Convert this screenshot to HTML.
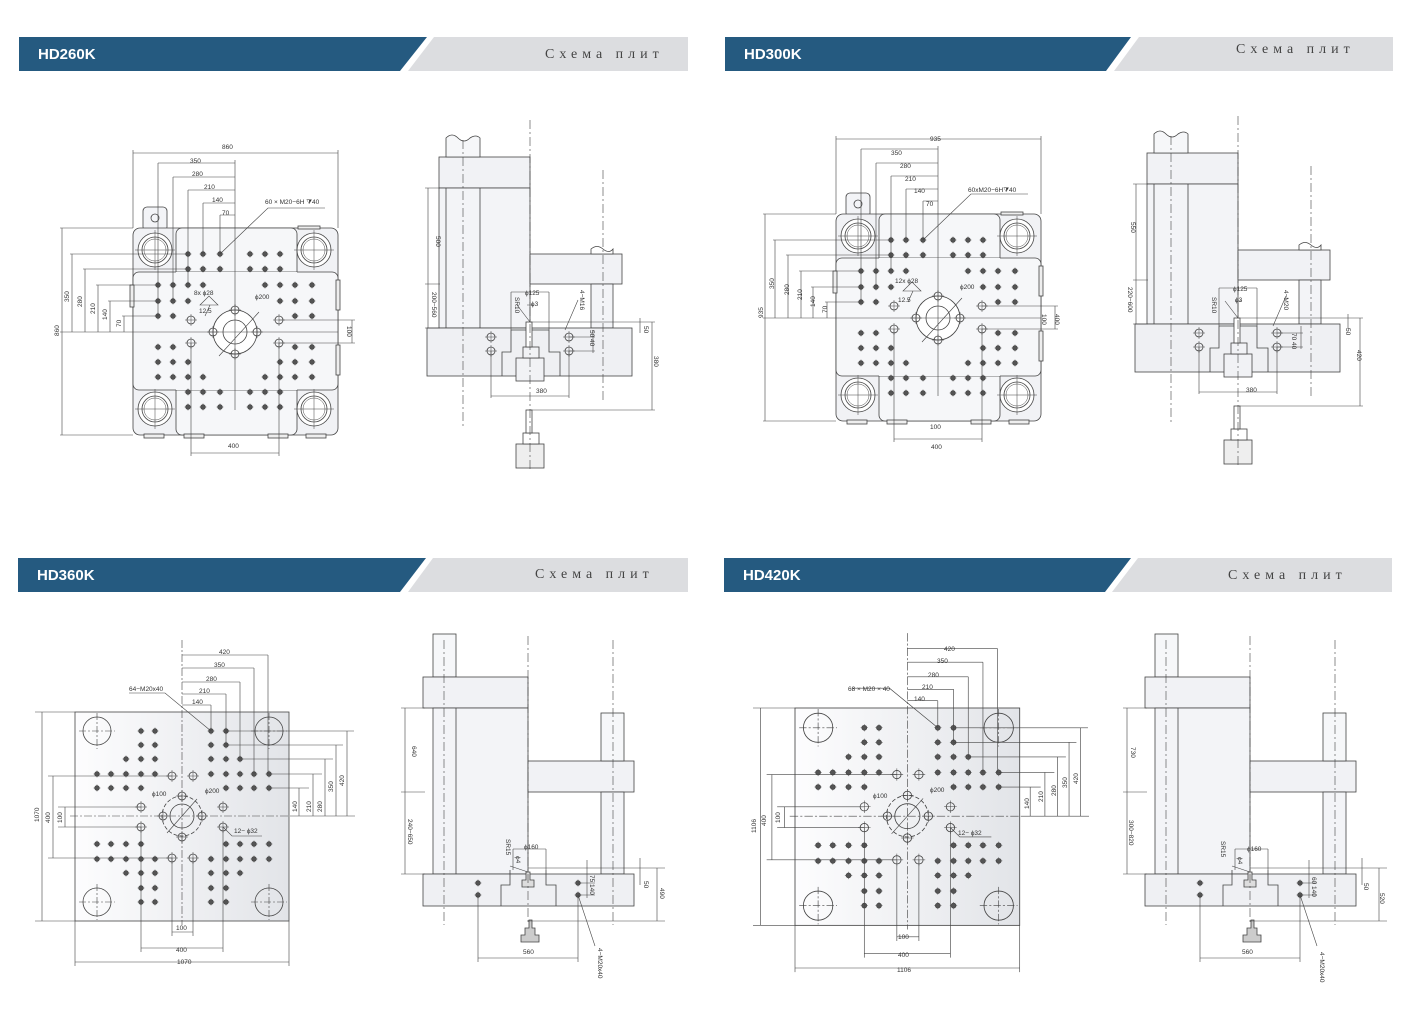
<!DOCTYPE html>
<html><head><meta charset="utf-8"><style>
html,body{margin:0;padding:0;background:#fff}
svg{display:block}
text{font-family:"Liberation Sans",sans-serif;fill:#333}
.t{font-size:6.5px}
.h{font-size:15px;font-weight:bold;fill:#fff}
.s{font-family:"Liberation Serif",serif;font-size:14px;letter-spacing:5px;fill:#444}
</style></head><body>
<svg width="1427" height="1021" viewBox="0 0 1427 1021" xmlns="http://www.w3.org/2000/svg">
<defs>
<linearGradient id="gr" x1="0" x2="1"><stop offset="0" stop-color="#fdfdfe"/><stop offset="1" stop-color="#e2e4e8"/></linearGradient>
<g id="d"><circle r="2.3" fill="#555"/><path d="M-3.5 0H3.5M0 -3.5V3.5" stroke="#555" stroke-width="0.5"/></g>
<g id="o"><circle r="4" fill="none" stroke="#444" stroke-width="0.8"/><path d="M-6 0H6M0 -6V6" stroke="#444" stroke-width="0.5"/></g>
<g id="tb"><circle r="17" fill="#fff" stroke="#444" stroke-width="0.8"/><circle r="13" fill="none" stroke="#444" stroke-width="0.8"/><circle r="11" fill="none" stroke="#444" stroke-width="0.5"/><path d="M-20 0H20M0 -20V20" stroke="#444" stroke-width="0.5"/></g>
<g id="tc"><circle r="14" fill="none" stroke="#444" stroke-width="0.8"/><path d="M-18 0H18M0 -18V18" stroke="#444" stroke-width="0.6" stroke-dasharray="7 2 2 2"/></g>

<!-- Plate A (HD260K) -->
<g id="plA" stroke="#444" stroke-width="0.8">
<rect x="143" y="207" width="24" height="24" rx="4" fill="#f3f4f7"/>
<rect x="133" y="228" width="205" height="207" rx="7" fill="#f1f2f5"/>
<rect x="176" y="228" width="121" height="207" rx="6" fill="#f6f7f9"/>
<rect x="133" y="272" width="205" height="118" rx="6" fill="#f6f7f9"/>
<rect x="176" y="272" width="121" height="118" fill="#f6f7f9" stroke="none"/>
<rect x="298" y="226" width="22" height="3" fill="#eee"/>
<rect x="336" y="280" width="4" height="30" fill="#eee"/>
<rect x="336" y="345" width="4" height="30" fill="#eee"/>
<rect x="130" y="285" width="4" height="22" fill="#eee"/>
<rect x="144" y="434" width="20" height="4" fill="#eee"/><rect x="184" y="434" width="20" height="4" fill="#eee"/><rect x="268" y="434" width="20" height="4" fill="#eee"/><rect x="306" y="434" width="20" height="4" fill="#eee"/>
<circle cx="155" cy="218" r="4" fill="none"/>
<use href="#tb" x="155" y="250"/><use href="#tb" x="314" y="250"/><use href="#tb" x="155" y="409"/><use href="#tb" x="314" y="409"/>
<circle cx="235" cy="332" r="22" fill="#fff"/><circle cx="235" cy="332" r="12" fill="none"/>
<path d="M213 332H338M235 160V410M219 356L259 312M124 332H213" stroke-width="0.6"/>
<g stroke="#444"><use href="#o" x="235" y="310"/><use href="#o" x="235" y="354"/><use href="#o" x="213" y="332"/><use href="#o" x="257" y="332"/><use href="#o" x="191" y="320"/><use href="#o" x="191" y="343"/><use href="#o" x="279" y="320"/><use href="#o" x="279" y="343"/></g>
<g>
<use href="#d" x="188" y="254"/><use href="#d" x="203" y="254"/><use href="#d" x="220" y="254"/>
<use href="#d" x="188" y="269"/><use href="#d" x="203" y="269"/><use href="#d" x="220" y="269"/>
<use href="#d" x="158" y="285"/><use href="#d" x="173" y="285"/><use href="#d" x="188" y="285"/><use href="#d" x="203" y="285"/>
<use href="#d" x="158" y="301"/><use href="#d" x="173" y="301"/><use href="#d" x="188" y="301"/>
<use href="#d" x="158" y="316"/><use href="#d" x="173" y="316"/>
<use href="#d" x="250" y="254"/><use href="#d" x="265" y="254"/><use href="#d" x="280" y="254"/>
<use href="#d" x="250" y="269"/><use href="#d" x="265" y="269"/><use href="#d" x="280" y="269"/>
<use href="#d" x="265" y="285"/><use href="#d" x="280" y="285"/><use href="#d" x="295" y="285"/><use href="#d" x="312" y="285"/>
<use href="#d" x="280" y="301"/><use href="#d" x="295" y="301"/><use href="#d" x="312" y="301"/>
<use href="#d" x="295" y="316"/><use href="#d" x="312" y="316"/>
<use href="#d" x="158" y="347"/><use href="#d" x="173" y="347"/><use href="#d" x="295" y="347"/><use href="#d" x="312" y="347"/>
<use href="#d" x="158" y="362"/><use href="#d" x="173" y="362"/><use href="#d" x="188" y="362"/><use href="#d" x="280" y="362"/><use href="#d" x="295" y="362"/><use href="#d" x="312" y="362"/>
<use href="#d" x="158" y="377"/><use href="#d" x="173" y="377"/><use href="#d" x="188" y="377"/><use href="#d" x="203" y="377"/><use href="#d" x="265" y="377"/><use href="#d" x="280" y="377"/><use href="#d" x="295" y="377"/><use href="#d" x="312" y="377"/>
<use href="#d" x="188" y="392"/><use href="#d" x="203" y="392"/><use href="#d" x="220" y="392"/><use href="#d" x="250" y="392"/><use href="#d" x="265" y="392"/><use href="#d" x="280" y="392"/>
<use href="#d" x="188" y="407"/><use href="#d" x="203" y="407"/><use href="#d" x="220" y="407"/><use href="#d" x="250" y="407"/><use href="#d" x="265" y="407"/><use href="#d" x="280" y="407"/>
</g>
<g stroke-width="0.6" fill="none">
<path d="M133 228V150M338 228V150M133 153H338"/>
<path d="M158 163H235M158 163V316M173 177H235M173 177V301M188 190H235M188 190V285M203 203H235M203 203V254M220 215H235M220 215V254"/>
<path d="M60 228H133M60 435H133M62 228V435"/>
<path d="M70 254H188M72 254V332M83 269H188M85 269V332M96 285H158M98 285V332M108 301H158M110 301V332M122 316H158M124 316V332M60 332H124"/>
<path d="M279 320H355M279 343H355M352 320V343"/>
<path d="M191 343V456M279 343V456M191 453H279"/>
<path d="M220 254L268 208H325"/>
<path d="M200 305L209 296L218 305Z M210 305L205 316"/>
</g>
</g>

<!-- Side A -->
<g id="sdA" stroke="#444" stroke-width="0.8">
<rect x="439" y="157" width="91" height="31" fill="#f1f2f5"/>
<path d="M446 157V138Q452 132 458 138T470 138Q476 134 480 138V157Z" fill="#f6f7f9"/>
<rect x="439" y="188" width="91" height="140" fill="#f3f4f7"/>
<path d="M446 188V328M480 188V328"/>
<rect x="530" y="254" width="92" height="30" fill="#f1f2f5"/>
<path d="M591 254V249Q597 244 603 249T613 249V254Z" fill="#fff"/>
<rect x="591" y="284" width="22" height="44" fill="#f3f4f7"/>
<rect x="427" y="328" width="205" height="48" fill="#eff0f3"/>
<path d="M502 376V352H511V330H549V352H560V376" fill="none"/>
<rect x="516" y="358" width="28" height="23" fill="#f1f2f5"/>
<rect x="523" y="347" width="16" height="11" fill="#f1f2f5"/>
<rect x="526" y="322" width="6" height="25" fill="#fff"/>
<rect x="516" y="444" width="28" height="24" fill="#eee"/>
<rect x="523" y="433" width="16" height="11" fill="#fff"/>
<rect x="526" y="410" width="6" height="23" fill="#fff"/>
<g stroke-width="0.6" stroke-dasharray="9 3 2 3" fill="none">
<path d="M463 140V428M530 120V470M603 170V400"/>
</g>
<use href="#o" x="491" y="337"/><use href="#o" x="491" y="351"/><use href="#o" x="569" y="337"/><use href="#o" x="569" y="351"/>
<g stroke-width="0.6" fill="none">
<path d="M428 188V328M425 188H440M425 284H440M425 328H440"/>
<path d="M491 351V398M569 351V398M491 396H569"/>
<path d="M530 322H655M530 410H655M652 322V410M640 318V333"/>
<path d="M569 337H595M569 351H595M593 330V353"/>
<path d="M511 292H549M511 292V330M549 292V330M527 305H534"/>
<path d="M517 305L530 322M565 330L578 300"/>
</g>
</g>

<!-- Plate B (HD360K) -->
<g id="plB" stroke="#444" stroke-width="0.8">
<rect x="75" y="712" width="214" height="209" fill="url(#gr)"/>
<use href="#tc" x="97" y="731"/><use href="#tc" x="269" y="731"/><use href="#tc" x="97" y="902"/><use href="#tc" x="269" y="902"/>
<circle cx="182" cy="816" r="20" fill="none" stroke-dasharray="4 2"/><circle cx="182" cy="816" r="12" fill="none"/>
<path d="M70 816H290M182 640V925" stroke-width="0.6" stroke-dasharray="8 2 2 2"/>
<path d="M167 833L197 799" stroke-width="0.6"/>
<g><use href="#o" x="172" y="776"/><use href="#o" x="193" y="776"/><use href="#o" x="141" y="807"/><use href="#o" x="141" y="827"/><use href="#o" x="223" y="807"/><use href="#o" x="223" y="827"/><use href="#o" x="172" y="858"/><use href="#o" x="193" y="858"/><use href="#o" x="182" y="796"/><use href="#o" x="182" y="837"/><use href="#o" x="163" y="816"/><use href="#o" x="202" y="816"/></g>
<g>
<use href="#d" x="141" y="731"/><use href="#d" x="155" y="731"/><use href="#d" x="141" y="745"/><use href="#d" x="155" y="745"/>
<use href="#d" x="126" y="759"/><use href="#d" x="141" y="759"/><use href="#d" x="155" y="759"/>
<use href="#d" x="97" y="774"/><use href="#d" x="111" y="774"/><use href="#d" x="126" y="774"/><use href="#d" x="141" y="774"/><use href="#d" x="155" y="774"/>
<use href="#d" x="97" y="788"/><use href="#d" x="111" y="788"/><use href="#d" x="126" y="788"/><use href="#d" x="141" y="788"/>
<use href="#d" x="211" y="731"/><use href="#d" x="226" y="731"/><use href="#d" x="211" y="745"/><use href="#d" x="226" y="745"/>
<use href="#d" x="211" y="759"/><use href="#d" x="226" y="759"/><use href="#d" x="240" y="759"/>
<use href="#d" x="211" y="774"/><use href="#d" x="226" y="774"/><use href="#d" x="240" y="774"/><use href="#d" x="254" y="774"/><use href="#d" x="269" y="774"/>
<use href="#d" x="226" y="788"/><use href="#d" x="240" y="788"/><use href="#d" x="254" y="788"/><use href="#d" x="269" y="788"/>
<use href="#d" x="97" y="844"/><use href="#d" x="111" y="844"/><use href="#d" x="126" y="844"/><use href="#d" x="141" y="844"/>
<use href="#d" x="97" y="859"/><use href="#d" x="111" y="859"/><use href="#d" x="126" y="859"/><use href="#d" x="141" y="859"/><use href="#d" x="155" y="859"/>
<use href="#d" x="126" y="873"/><use href="#d" x="141" y="873"/><use href="#d" x="155" y="873"/>
<use href="#d" x="141" y="888"/><use href="#d" x="155" y="888"/><use href="#d" x="141" y="902"/><use href="#d" x="155" y="902"/>
<use href="#d" x="226" y="844"/><use href="#d" x="240" y="844"/><use href="#d" x="254" y="844"/><use href="#d" x="269" y="844"/>
<use href="#d" x="211" y="859"/><use href="#d" x="226" y="859"/><use href="#d" x="240" y="859"/><use href="#d" x="254" y="859"/><use href="#d" x="269" y="859"/>
<use href="#d" x="211" y="873"/><use href="#d" x="226" y="873"/><use href="#d" x="240" y="873"/>
<use href="#d" x="211" y="888"/><use href="#d" x="226" y="888"/><use href="#d" x="211" y="902"/><use href="#d" x="226" y="902"/>
</g>
<g stroke-width="0.6" fill="none">
<path d="M182 655H268M268 655V774M182 668H254M254 668V774M182 682H240M240 682V759M182 694H226M226 694V745M182 705H211M211 705V731"/>
<path d="M35 712H75M35 921H75M42 712V921"/>
<path d="M48 776H172M48 858H172M53 776V858M58 807H141M58 827H141M65 807V827"/>
<path d="M226 731H354M226 745H343M240 759H333M269 774H322M269 788H309M299 788V816M313 774V816M325 759V816M336 745V816M347 731V816M290 816H355"/>
<path d="M172 858V936M193 858V936M172 932H193M141 827V952M223 827V952M141 948H223M75 921V966M289 921V966M75 962H289"/>
<path d="M129 693H165L211 731"/>
<path d="M223 827L232 836H262"/>
</g>
</g>

<!-- Side B -->
<g id="sdB" stroke="#444" stroke-width="0.8">
<rect x="433" y="634" width="23" height="43" fill="#f6f7f9"/>
<rect x="423" y="677" width="105" height="31" fill="#f1f2f5"/>
<rect x="433" y="708" width="95" height="166" fill="#f3f4f7"/>
<path d="M456 708V874"/>
<rect x="528" y="761" width="106" height="31" fill="#f1f2f5"/>
<rect x="601" y="713" width="23" height="48" fill="#f6f7f9"/>
<rect x="601" y="792" width="23" height="82" fill="#f3f4f7"/>
<rect x="423" y="874" width="211" height="32" fill="#eff0f3"/>
<path d="M501 906V885H510V870M546 870V885H556V906" fill="none"/>
<path d="M522 887V880H526V872H530V880H534V887Z" fill="#ddd"/>
<path d="M521 942V935H525V928H529V920H532V928H535V935H539V942Z" fill="#ccc"/>
<g stroke-width="0.6" stroke-dasharray="9 3 2 3" fill="none"><path d="M444 640V925M528 636V925M613 640V925"/></g>
<use href="#d" x="478" y="883"/><use href="#d" x="478" y="895"/><use href="#d" x="578" y="883"/><use href="#d" x="578" y="895"/>
<g stroke-width="0.6" fill="none">
<path d="M401 708H425M401 792H425M401 874H425M405 708V874"/>
<path d="M478 895V962M578 895V962M478 958H578"/>
<path d="M528 868H665M528 921H665M657 868V921M640 858V885"/>
<path d="M578 883H595M578 895H595M587 860V898"/>
<path d="M513 849H546M513 849V870M546 849V870"/>
<path d="M510 866L528 872M578 895L595 946"/>
</g>
</g>
</defs>

<!-- Headers -->
<polygon points="19,37 427,37 400,71 19,71" fill="#255a80"/>
<polygon points="434,37 688,37 688,71 408,71" fill="#dcdde0"/>
<polygon points="725,37 1131,37 1106,71 725,71" fill="#255a80"/>
<polygon points="1139,37 1393,37 1393,71 1114,71" fill="#dcdde0"/>
<polygon points="18,558 426,558 400,592 18,592" fill="#255a80"/>
<polygon points="433,558 688,558 688,592 408,592" fill="#dcdde0"/>
<polygon points="724,558 1131,558 1105,592 724,592" fill="#255a80"/>
<polygon points="1138,558 1392,558 1392,592 1112,592" fill="#dcdde0"/>
<text class="h" x="38" y="59">HD260K</text>
<text class="h" x="744" y="59">HD300K</text>
<text class="h" x="37" y="580">HD360K</text>
<text class="h" x="743" y="580">HD420K</text>
<text class="s" x="545" y="58">Схема плит</text>
<text class="s" x="1236" y="53">Схема плит</text>
<text class="s" x="535" y="578">Схема плит</text>
<text class="s" x="1228" y="579">Схема плит</text>

<!-- Panels -->
<use href="#plA"/>
<use href="#sdA"/>
<use href="#plA" transform="translate(703,-14)"/>
<use href="#sdA" transform="translate(708,-4)"/>
<use href="#plB"/>
<use href="#sdB"/>
<use href="#plB" transform="translate(795,708) scale(1.05,1.04) translate(-75,-712)"/>
<use href="#sdB" transform="translate(722,0)"/>

<!-- Labels HD260K -->
<g class="t">
<text x="222" y="149">860</text><text x="190" y="163">350</text><text x="192" y="176">280</text><text x="204" y="189">210</text><text x="212" y="202">140</text><text x="222" y="215">70</text>
<text x="265" y="204">60 × M20−6H ⧩40</text>
<text x="194" y="295">8x ɸ28</text><text x="199" y="313">12.5</text><text x="255" y="299">ɸ200</text>
<text x="228" y="448">400</text>
<text transform="translate(59,336) rotate(-90)">860</text>
<text transform="translate(69,302) rotate(-90)">350</text>
<text transform="translate(82,307) rotate(-90)">280</text>
<text transform="translate(95,314) rotate(-90)">210</text>
<text transform="translate(107,320) rotate(-90)">140</text>
<text transform="translate(121,327) rotate(-90)">70</text>
<text transform="translate(347,326) rotate(90)">100</text>
<text transform="translate(436,236) rotate(90)">500</text>
<text transform="translate(432,292) rotate(90)">200−560</text>
<text x="525" y="295">ɸ125</text><text x="531" y="306">ɸ3</text>
<text transform="translate(515,297) rotate(90)">SR10</text>
<text transform="translate(580,290) rotate(90)">4−M16</text>
<text transform="translate(590,330) rotate(90)">50 40</text>
<text transform="translate(644,326) rotate(90)">50</text>
<text transform="translate(654,356) rotate(90)">380</text>
<text x="536" y="393">380</text>
</g>
<!-- Labels HD300K -->
<g class="t">
<text x="930" y="141">935</text><text x="891" y="155">350</text><text x="900" y="168">280</text><text x="905" y="181">210</text><text x="914" y="193">140</text><text x="926" y="206">70</text>
<text x="968" y="192">60xM20−6H⧩40</text>
<text x="895" y="283">12x ɸ28</text><text x="898" y="302">12.5</text><text x="960" y="289">ɸ200</text>
<text x="930" y="429">100</text><text x="931" y="449">400</text>
<text transform="translate(763,318) rotate(-90)">935</text>
<text transform="translate(774,289) rotate(-90)">350</text>
<text transform="translate(789,295) rotate(-90)">280</text>
<text transform="translate(802,300) rotate(-90)">210</text>
<text transform="translate(815,307) rotate(-90)">140</text>
<text transform="translate(827,313) rotate(-90)">70</text>
<text transform="translate(1042,314) rotate(90)">100</text>
<text transform="translate(1055,314) rotate(90)">400</text>
<text transform="translate(1131,222) rotate(90)">550</text>
<text transform="translate(1128,287) rotate(90)">220−600</text>
<text x="1233" y="291">ɸ125</text><text x="1235" y="302">ɸ3</text>
<text transform="translate(1212,297) rotate(90)">SR10</text>
<text transform="translate(1284,290) rotate(90)">4−M20</text>
<text transform="translate(1292,333) rotate(90)">70 40</text>
<text transform="translate(1346,328) rotate(90)">50</text>
<text transform="translate(1357,350) rotate(90)">420</text>
<text x="1246" y="392">380</text>
</g>
<!-- Labels HD360K -->
<g class="t">
<text x="219" y="654">420</text><text x="214" y="667">350</text><text x="206" y="681">280</text><text x="199" y="693">210</text><text x="192" y="704">140</text>
<text x="129" y="691">64−M20x40</text>
<text x="152" y="796">ɸ100</text><text x="205" y="793">ɸ200</text><text x="234" y="833">12− ɸ32</text>
<text x="176" y="930">100</text><text x="176" y="952">400</text><text x="177" y="964">1070</text>
<text transform="translate(39,822) rotate(-90)">1070</text>
<text transform="translate(50,823) rotate(-90)">400</text>
<text transform="translate(62,823) rotate(-90)">100</text>
<text transform="translate(297,812) rotate(-90)">140</text>
<text transform="translate(311,812) rotate(-90)">210</text>
<text transform="translate(322,812) rotate(-90)">280</text>
<text transform="translate(333,792) rotate(-90)">350</text>
<text transform="translate(344,786) rotate(-90)">420</text>
<text transform="translate(412,746) rotate(90)">640</text>
<text transform="translate(408,819) rotate(90)">240−650</text>
<text x="524" y="849">ɸ160</text>
<text transform="translate(506,839) rotate(90)">SR15</text>
<text transform="translate(516,856) rotate(90)">ɸ4</text>
<text transform="translate(590,875) rotate(90)">75 140</text>
<text transform="translate(644,881) rotate(90)">50</text>
<text transform="translate(660,888) rotate(90)">490</text>
<text x="523" y="954">560</text>
<text transform="translate(598,948) rotate(90)">4−M20x40</text>
</g>
<!-- Labels HD420K -->
<g class="t">
<text x="944" y="651">420</text><text x="937" y="663">350</text><text x="928" y="677">280</text><text x="922" y="689">210</text><text x="914" y="701">140</text>
<text x="848" y="691">68 × M20 × 40</text>
<text x="873" y="798">ɸ100</text><text x="930" y="792">ɸ200</text><text x="958" y="835">12− ɸ32</text>
<text x="898" y="939">100</text><text x="898" y="957">400</text><text x="897" y="972">1106</text>
<text transform="translate(756,833) rotate(-90)">1106</text>
<text transform="translate(766,826) rotate(-90)">400</text>
<text transform="translate(780,823) rotate(-90)">100</text>
<text transform="translate(1029,809) rotate(-90)">140</text>
<text transform="translate(1043,802) rotate(-90)">210</text>
<text transform="translate(1056,796) rotate(-90)">280</text>
<text transform="translate(1067,788) rotate(-90)">350</text>
<text transform="translate(1078,784) rotate(-90)">420</text>
<text transform="translate(1131,747) rotate(90)">730</text>
<text transform="translate(1129,820) rotate(90)">300−820</text>
<text x="1247" y="851">ɸ160</text>
<text transform="translate(1221,841) rotate(90)">SR15</text>
<text transform="translate(1238,857) rotate(90)">ɸ4</text>
<text transform="translate(1312,877) rotate(90)">60 140</text>
<text transform="translate(1364,883) rotate(90)">50</text>
<text transform="translate(1380,893) rotate(90)">520</text>
<text x="1242" y="954">560</text>
<text transform="translate(1320,952) rotate(90)">4−M20x40</text>
</g>
</svg>
</body></html>
